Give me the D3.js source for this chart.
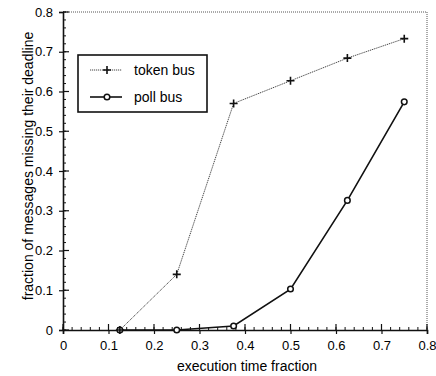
<!DOCTYPE html>
<html>
<head>
<meta charset="utf-8">
<script src="https://cdn.jsdelivr.net/npm/d3@7"></script>
<style>
  body { margin: 0; background: #fff; }
  text { font-family: "Liberation Sans", Arial, sans-serif; fill: #000; }
</style>
</head>
<body>
<div id="chart"></div>
<script>
// execution time fraction (x)
var execFraction = [0.125, 0.25, 0.375, 0.5, 0.625, 0.75];
// fraction of messages missing their deadline
var tokenBus = [0, 0.14, 0.57, 0.627, 0.684, 0.733];
var pollBus  = [0, 0, 0.01, 0.103, 0.326, 0.574];
var seriesNames = ["token bus", "poll bus"];
var xTicks = [0, 0.1, 0.2, 0.3, 0.4, 0.5, 0.6, 0.7, 0.8];
var yTicks = [0, 0.1, 0.2, 0.3, 0.4, 0.5, 0.6, 0.7, 0.8];

function drawChart() {
    var W = 436, H = 376;
    var margin = {top: 12, right: 9, bottom: 46, left: 63};
    var width = W - margin.left - margin.right,
        height = H - margin.top - margin.bottom;

    var svg = d3.select("#chart").append("svg")
        .attr("width", W).attr("height", H);
    var g = svg.append("g")
        .attr("transform", "translate(" + margin.left + "," + margin.top + ")");

    var x = d3.scaleLinear().domain([0, 0.8]).range([0, width]);
    var y = d3.scaleLinear().domain([0, 0.8]).range([height, 0]);

    // top and right frame, thin dotted
    g.append("path")
        .attr("d", "M0,0H" + width + "V" + height)
        .attr("fill", "none").attr("stroke", "#555")
        .attr("stroke-width", 1).attr("stroke-dasharray", "1,1");

    // minor ticks (inside)
    var minor = d3.range(0, 0.8001, 0.02);
    g.selectAll(".xminor").data(minor).enter().append("line")
        .attr("x1", function(d) { return x(d); }).attr("x2", function(d) { return x(d); })
        .attr("y1", height).attr("y2", height - 3)
        .attr("stroke", "#111");
    g.selectAll(".yminor").data(minor).enter().append("line")
        .attr("y1", function(d) { return y(d); }).attr("y2", function(d) { return y(d); })
        .attr("x1", 0).attr("x2", 3)
        .attr("stroke", "#111");

    // axes
    var fmt = function(d) { return d === 0 ? "0" : d3.format(".1f")(d); };
    var xAxis = g.append("g").attr("transform", "translate(0," + height + ")")
        .call(d3.axisBottom(x).tickValues(xTicks).tickFormat(fmt)
            .tickSize(4).tickPadding(7));
    var yAxis = g.append("g")
        .call(d3.axisLeft(y).tickValues(yTicks).tickFormat(fmt)
            .tickSize(4).tickPadding(6));
    [xAxis, yAxis].forEach(function(a) {
        a.select(".domain").attr("stroke", "#111").attr("stroke-width", 1.6);
        a.selectAll(".tick line").attr("stroke", "#111").attr("stroke-width", 1.2);
        a.selectAll(".tick text").attr("font-size", 13).attr("fill", "#000")
            .style("font-family", "'Liberation Sans', Arial, sans-serif");
    });
    // inner part of major ticks
    g.selectAll(".xmaj").data(xTicks).enter().append("line")
        .attr("x1", function(d) { return x(d); }).attr("x2", function(d) { return x(d); })
        .attr("y1", height).attr("y2", height - 6).attr("stroke", "#111").attr("stroke-width", 1.2);
    g.selectAll(".ymaj").data(yTicks).enter().append("line")
        .attr("y1", function(d) { return y(d); }).attr("y2", function(d) { return y(d); })
        .attr("x1", 0).attr("x2", 6).attr("stroke", "#111").attr("stroke-width", 1.2);

    // axis titles
    svg.append("text")
        .attr("x", margin.left + width / 2 + 2).attr("y", 371)
        .attr("text-anchor", "middle").attr("font-size", 14)
        .text("execution time fraction");
    svg.append("text")
        .attr("transform", "translate(33," + (margin.top + height / 2 - 5) + ") rotate(-90)")
        .attr("text-anchor", "middle").attr("font-size", 14)
        .text("fraction of messages missing their deadline");

    var line = d3.line()
        .x(function(d) { return x(d[0]); })
        .y(function(d) { return y(d[1]); });

    var tokenPts = execFraction.map(function(v, i) { return [v, tokenBus[i]]; });
    var pollPts = execFraction.map(function(v, i) { return [v, pollBus[i]]; });

    // token bus: thin dotted line with plus markers
    g.append("path").datum(tokenPts).attr("d", line)
        .attr("fill", "none").attr("stroke", "#444")
        .attr("stroke-width", 1).attr("stroke-dasharray", "1.2,0.8");
    // poll bus: solid line with circle markers
    g.append("path").datum(pollPts).attr("d", line)
        .attr("fill", "none").attr("stroke", "#111").attr("stroke-width", 1.6);

    function plus(sel, cx, cy) {
        sel.append("path")
            .attr("d", "M" + (cx - 4) + "," + cy + "H" + (cx + 4) + "M" + cx + "," + (cy - 4) + "V" + (cy + 4))
            .attr("stroke", "#111").attr("stroke-width", 1.6);
    }
    function circ(sel, cx, cy) {
        sel.append("circle").attr("cx", cx).attr("cy", cy).attr("r", 2.8)
            .attr("fill", "#fff").attr("stroke", "#111").attr("stroke-width", 1.5);
    }
    pollPts.forEach(function(d) { circ(g, x(d[0]), y(d[1])); });
    tokenPts.forEach(function(d) { plus(g, x(d[0]), y(d[1])); });

    // legend
    var lg = svg.append("g").attr("transform", "translate(78,55)");
    lg.append("rect").attr("width", 129).attr("height", 57)
        .attr("fill", "#fff").attr("stroke", "#111").attr("stroke-width", 1.6);
    lg.append("line").attr("x1", 12).attr("x2", 44).attr("y1", 15).attr("y2", 15)
        .attr("stroke", "#444").attr("stroke-width", 1).attr("stroke-dasharray", "1.2,0.8");
    plus(lg, 29, 15);
    lg.append("line").attr("x1", 12).attr("x2", 44).attr("y1", 42).attr("y2", 42)
        .attr("stroke", "#111").attr("stroke-width", 1.6);
    circ(lg, 29, 42);
    lg.selectAll(".lt").data(seriesNames).enter().append("text")
        .attr("x", 56).attr("y", function(d, i) { return 15 + i * 27; })
        .attr("dy", "0.35em").attr("font-size", 14)
        .text(function(d) { return d; });
}
drawChart();
</script>
</body>
</html>
